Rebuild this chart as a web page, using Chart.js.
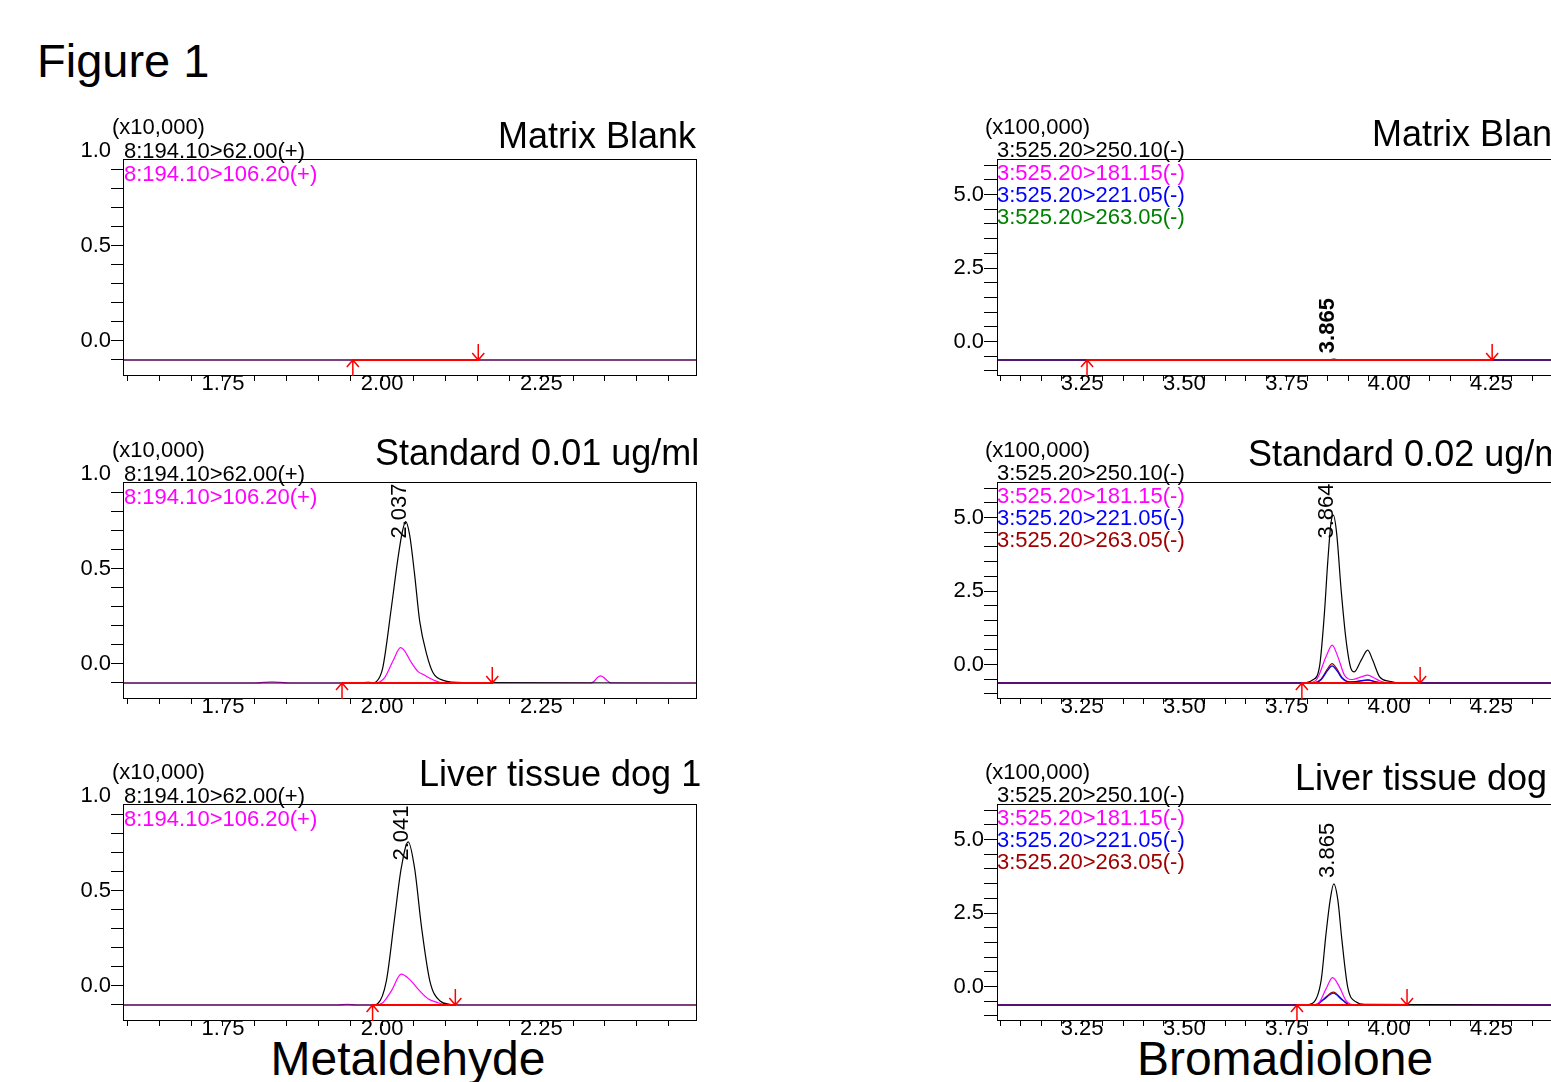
<!DOCTYPE html>
<html lang="en">
<head>
<meta charset="UTF-8">
<title>Figure 1</title>
<script src="https://cdn.jsdelivr.net/npm/chart.js"></script>
<style>
    body { margin: 0; width: 1551px; height: 1082px; overflow: hidden; background: #fff; position: relative;
           font-family: "Liberation Sans", Arial, sans-serif; color: #000; }
    canvas { position: absolute; }
    .t { position: absolute; white-space: nowrap; line-height: 1; }
</style>
</head>
<body>
<div class="t" style="left:37px;top:37px;font-size:47px">Figure 1</div>
<div class="t" style="left:408px;top:1035px;font-size:48px;transform:translateX(-50%)">Metaldehyde</div>
<div class="t" style="left:1285px;top:1035px;font-size:48px;transform:translateX(-50%)">Bromadiolone</div>

<canvas id="m1" width="700" height="306" style="left:60px;top:109px"></canvas>
<canvas id="m2" width="700" height="306" style="left:60px;top:432px"></canvas>
<canvas id="m3" width="700" height="306" style="left:60px;top:754px"></canvas>
<canvas id="b1" width="635" height="306" style="left:930px;top:109px"></canvas>
<canvas id="b2" width="635" height="306" style="left:930px;top:432px"></canvas>
<canvas id="b3" width="635" height="306" style="left:930px;top:754px"></canvas>

<script>
// ---- labels ----
const metTitles = ['Matrix Blank', 'Standard 0.01 ug/ml', 'Liver tissue dog 1'];
const bromTitles = ['Matrix Blank', 'Standard 0.02 ug/ml', 'Liver tissue dog 1'];
const metChannels = ['8:194.10>62.00(+)', '8:194.10>106.20(+)'];
const bromChannels = ['3:525.20>250.10(-)', '3:525.20>181.15(-)', '3:525.20>221.05(-)', '3:525.20>263.05(-)'];
const metScaleNote = '(x10,000)';
const bromScaleNote = '(x100,000)';

// ---- axis ticks ----
const metXTicks = [1.75, 2.00, 2.25];
const bromXTicks = [3.25, 3.50, 3.75, 4.00, 4.25];
const metYTicks = [0.0, 0.5, 1.0];
const bromYTicks = [0.0, 2.5, 5.0];

// ---- integration marks and peak times ----
const metIntStart = [1.954, 1.937, 1.985];
const metIntEnd = [2.151, 2.173, 2.115];
const bromIntStart = [3.262, 3.787, 3.775];
const bromIntEnd = [4.252, 4.076, 4.044];
const metPeakRT = [null, 2.037, 2.041];
const bromPeakRT = [3.865, 3.864, 3.865];

// ---- Metaldehyde traces ----
const m1BlackT = [1.593, 2.493];
const m1BlackY = [-0.1, -0.1];
const m1MagT = [1.593, 2.493];
const m1MagY = [-0.1, -0.1];

const m2BlackT = [1.593, 1.985, 1.991, 2.001, 2.0145, 2.025, 2.032, 2.037, 2.043, 2.051, 2.059, 2.070, 2.080, 2.096, 2.127, 2.493];
const m2BlackY = [-0.1, -0.1, -0.093, -0.02, 0.296, 0.56, 0.70, 0.749, 0.683, 0.472, 0.226, 0.051, -0.046, -0.086, -0.098, -0.1];
const m2MagT = [1.593, 1.800, 1.827, 1.855, 1.965, 1.978, 1.990, 2.004, 2.017, 2.029, 2.0355, 2.046, 2.0565, 2.064, 2.075, 2.085, 2.096, 2.328, 2.343, 2.360, 2.493];
const m2MagY = [-0.1, -0.1, -0.094, -0.1, -0.1, -0.095, -0.1, -0.072, 0.016, 0.086, 0.068, 0.007, -0.04, -0.054, -0.075, -0.09, -0.1, -0.1, -0.063, -0.1, -0.1];

const m3BlackT = [1.593, 1.985, 1.993, 2.0066, 2.0197, 2.030, 2.041, 2.051, 2.062, 2.075, 2.091, 2.106, 2.120, 2.493];
const m3BlackY = [-0.1, -0.1, -0.093, 0.026, 0.36, 0.62, 0.759, 0.62, 0.307, 0.026, -0.079, -0.096, -0.1, -0.1];
const m3MagT = [1.593, 1.930, 1.945, 1.960, 1.990, 2.001, 2.0145, 2.030, 2.043, 2.059, 2.072, 2.088, 2.100, 2.493];
const m3MagY = [-0.1, -0.1, -0.096, -0.1, -0.1, -0.088, -0.026, 0.062, 0.035, -0.026, -0.067, -0.088, -0.1, -0.1];

// ---- Bromadiolone traces ----
const b1BlackT = [3.042, 3.850, 3.865, 3.880, 4.430];
const b1BlackY = [-0.63, -0.63, -0.60, -0.63, -0.63];
const b1MagT = [3.042, 4.430];
const b1MagY = [-0.63, -0.63];
const b1BlueT = [3.042, 4.430];
const b1BlueY = [-0.63, -0.63];
const b1GreenT = [3.042, 4.430];
const b1GreenY = [-0.63, -0.63];

const b2BlackT = [3.042, 3.790, 3.813, 3.830, 3.842, 3.850, 3.858, 3.864, 3.872, 3.883, 3.895, 3.907, 3.915, 3.932, 3.948, 3.960, 3.977, 4.001, 4.030, 4.430];
const b2BlackY = [-0.63, -0.63, -0.53, -0.08, 1.73, 3.44, 4.80, 5.08, 4.46, 2.53, 0.83, -0.14, -0.25, 0.15, 0.49, 0.15, -0.42, -0.57, -0.63, -0.63];
const b2MagT = [3.042, 3.800, 3.822, 3.846, 3.861, 3.875, 3.891, 3.911, 3.930, 3.948, 3.965, 3.980, 4.000, 4.430];
const b2MagY = [-0.63, -0.63, -0.53, 0.26, 0.66, 0.26, -0.36, -0.51, -0.43, -0.36, -0.47, -0.57, -0.63, -0.63];
const b2BlueT = [3.042, 3.815, 3.835, 3.850, 3.861, 3.872, 3.885, 3.905, 3.930, 3.948, 3.965, 3.985, 4.430];
const b2BlueY = [-0.63, -0.63, -0.50, -0.20, -0.05, -0.20, -0.47, -0.60, -0.56, -0.52, -0.58, -0.63, -0.63];
const b2RedT = [3.042, 3.815, 3.835, 3.850, 3.861, 3.872, 3.885, 3.905, 3.930, 3.948, 3.965, 3.985, 4.430];
const b2RedY = [-0.63, -0.63, -0.48, -0.14, 0.03, -0.14, -0.44, -0.59, -0.56, -0.53, -0.58, -0.63, -0.63];

const b3BlackT = [3.042, 3.790, 3.813, 3.834, 3.846, 3.856, 3.865, 3.875, 3.885, 3.899, 3.920, 3.940, 4.430];
const b3BlackY = [-0.63, -0.63, -0.57, 0.20, 1.79, 2.93, 3.49, 2.93, 1.56, -0.02, -0.53, -0.61, -0.63];
const b3MagT = [3.042, 3.810, 3.830, 3.846, 3.862, 3.879, 3.895, 3.915, 4.430];
const b3MagY = [-0.63, -0.63, -0.53, -0.08, 0.30, -0.02, -0.48, -0.62, -0.63];
const b3BlueT = [3.042, 3.820, 3.840, 3.864, 3.885, 3.905, 4.430];
const b3BlueY = [-0.63, -0.63, -0.45, -0.23, -0.45, -0.63, -0.63];
const b3RedT = [3.042, 3.820, 3.840, 3.864, 3.885, 3.905, 4.430];
const b3RedY = [-0.63, -0.63, -0.43, -0.19, -0.43, -0.63, -0.63];

// ---- styles ----
const FONT = '"Liberation Sans", Arial, sans-serif';
const MAGENTA = '#ff00ff', BLUE = '#0000ff', GREEN = '#008000', DARKRED = '#a00000';
const bromFourthColor = [GREEN, DARKRED, DARKRED];
const boxTops = [159, 482, 804];

function near(v, list) {
    return list.some(t => Math.abs(t - v) < 1e-6);
}

function stepTicks(min, max, step) {
    const out = [];
    for (let k = Math.ceil(min / step - 1e-9); k * step <= max + 1e-9; k++) {
        out.push({ value: +(k * step).toFixed(4) });
    }
    return out;
}

function trace(ts, ys, color) {
    return {
        data: ts.map((t, i) => ({ x: t, y: ys[i] })),
        borderColor: color, borderWidth: 1.2, pointRadius: 0,
        cubicInterpolationMode: 'monotone', fill: false
    };
}

// frame, integration arrows and peak retention time label
const chromaDecor = {
    id: 'chromaDecor',
    afterDatasetsDraw(chart, args, o) {
        const ctx = chart.ctx, xs = chart.scales.x, ys = chart.scales.y, a = chart.chartArea;
        ctx.save();
        const top = Math.round(ys.getPixelForValue(o.boxTop)) + 0.5;
        const left = Math.round(a.left) + 0.5, bottom = Math.round(a.bottom) + 0.5;
        ctx.strokeStyle = '#000';
        ctx.lineWidth = 1;
        ctx.strokeRect(left, top, Math.round(a.right - a.left), bottom - top);

        const yb = ys.getPixelForValue(o.base);
        const x0 = xs.getPixelForValue(o.start), x1 = xs.getPixelForValue(o.end);
        ctx.strokeStyle = '#ff0000';
        ctx.lineWidth = 1.5;
        ctx.beginPath();
        ctx.moveTo(x0, yb + 16); ctx.lineTo(x0, yb);
        ctx.moveTo(x0 - 6, yb + 7); ctx.lineTo(x0, yb); ctx.lineTo(x0 + 6, yb + 7);
        ctx.moveTo(x1, yb - 16); ctx.lineTo(x1, yb);
        ctx.moveTo(x1 - 6, yb - 7); ctx.lineTo(x1, yb); ctx.lineTo(x1 + 6, yb - 7);
        ctx.stroke();

        if (o.peak != null) {
            const pts = chart.data.datasets[1].data.filter(p => Math.abs(p.x - o.peak) < 0.016);
            let apex = pts[0];
            pts.forEach(p => { if (p.y > apex.y) apex = p; });
            const px = xs.getPixelForValue(apex.x), py = ys.getPixelForValue(apex.y);
            const txt = o.peak.toFixed(3);
            ctx.font = (o.bold ? 'bold ' : '') + '22px ' + FONT;
            const w = ctx.measureText(txt).width;
            const sy = Math.max(py - 6, top + 1 + w);
            ctx.translate(px, sy);
            ctx.rotate(-Math.PI / 2);
            ctx.fillStyle = '#000';
            ctx.textAlign = 'left';
            ctx.textBaseline = 'alphabetic';
            ctx.fillText(txt, 0, 0);
        }
        ctx.restore();
    }
};

function makePanel(id, p) {
    new Chart(document.getElementById(id), {
        type: 'line',
        data: { datasets: p.datasets },
        options: {
            responsive: false,
            animation: false,
            devicePixelRatio: 1,
            layout: { padding: { left: 0, right: p.padRight, top: p.padTop, bottom: 0 } },
            plugins: {
                legend: { display: false },
                tooltip: { enabled: false },
                chromaDecor: p.decor
            },
            scales: {
                x: {
                    type: 'linear', min: p.xMin, max: p.xMax,
                    afterFit: s => { s.height = 40; },
                    afterBuildTicks: s => { s.ticks = stepTicks(p.xMin, p.xMax, 0.05); },
                    grid: { drawOnChartArea: false, tickLength: 6, color: '#000', lineWidth: 1 },
                    border: { display: false },
                    ticks: {
                        autoSkip: false, maxRotation: 0, padding: -10, color: '#000',
                        font: { family: FONT, size: 22 },
                        callback: v => near(v, p.xLabels) ? v.toFixed(2) : ''
                    }
                },
                y: {
                    type: 'linear', min: p.yMin, max: p.yMax,
                    afterFit: s => { s.width = p.yWidth; },
                    afterBuildTicks: s => { s.ticks = stepTicks(p.yMin, p.yMax, p.yStep); },
                    grid: {
                        drawOnChartArea: false, tickLength: p.tickLen, lineWidth: 1,
                        tickColor: c => (c.tick && c.tick.value > p.decor.boxTop + 1e-6) ? 'rgba(0,0,0,0)' : '#000'
                    },
                    border: { display: false },
                    ticks: {
                        autoSkip: false, padding: 0, color: '#000',
                        font: { family: FONT, size: 22 },
                        callback: v => near(v, p.yLabels) ? v.toFixed(1) : ''
                    }
                }
            }
        },
        plugins: [chromaDecor]
    });
}

function intLine(s, e, base) {
    return { data: [{ x: s, y: base }, { x: e, y: base }], borderColor: '#ff0000', borderWidth: 2, pointRadius: 0 };
}

const metSets = [
    [m1BlackT, m1BlackY, m1MagT, m1MagY],
    [m2BlackT, m2BlackY, m2MagT, m2MagY],
    [m3BlackT, m3BlackY, m3MagT, m3MagY]
];
const bromSets = [
    [b1BlackT, b1BlackY, b1MagT, b1MagY, b1BlueT, b1BlueY, b1GreenT, b1GreenY],
    [b2BlackT, b2BlackY, b2MagT, b2MagY, b2BlueT, b2BlueY, b2RedT, b2RedY],
    [b3BlackT, b3BlackY, b3MagT, b3MagY, b3BlueT, b3BlueY, b3RedT, b3RedY]
];

['m1', 'm2', 'm3'].forEach((id, k) => {
    const s = metSets[k];
    makePanel(id, {
        datasets: [
            intLine(metIntStart[k], metIntEnd[k], -0.1),
            trace(s[0], s[1], '#000'),
            trace(s[2], s[3], MAGENTA)
        ],
        xMin: 1.593, xMax: 2.493, xLabels: metXTicks,
        yMin: -0.179, yMax: 1.0, yStep: 0.1, yLabels: metYTicks,
        yWidth: 63, tickLen: 12, padTop: 42, padRight: 64,
        decor: { boxTop: 0.958, base: -0.1, start: metIntStart[k], end: metIntEnd[k], peak: metPeakRT[k], bold: false }
    });
});

['b1', 'b2', 'b3'].forEach((id, k) => {
    const s = bromSets[k];
    makePanel(id, {
        datasets: [
            intLine(bromIntStart[k], bromIntEnd[k], -0.63),
            trace(s[0], s[1], '#000'),
            trace(s[2], s[3], MAGENTA),
            trace(s[4], s[5], BLUE),
            trace(s[6], s[7], bromFourthColor[k])
        ],
        xMin: 3.042, xMax: 4.43, xLabels: bromXTicks,
        yMin: -1.14, yMax: 6.21, yStep: 0.5, yLabels: bromYTicks,
        yWidth: 67, tickLen: 13, padTop: 50, padRight: 0,
        decor: { boxTop: 6.21, base: -0.63, start: bromIntStart[k], end: bromIntEnd[k], peak: bromPeakRT[k], bold: k === 0 }
    });
});

// panel texts
function addText(txt, left, baseline, size, color) {
    const d = document.createElement('div');
    d.className = 't';
    d.textContent = txt;
    d.style.left = left + 'px';
    d.style.top = (baseline - 0.8465 * size) + 'px';
    d.style.fontSize = size + 'px';
    d.style.color = color;
    document.body.appendChild(d);
}

const titleLeftX = [498, 375, 419], titleBaseL = [148.3, 465.7, 786.7];
const titleRightX = [1372, 1248, 1295], titleBaseR = [146.7, 466.7, 790.7];
const metColors = ['#000', MAGENTA];

boxTops.forEach((B, k) => {
    addText(metTitles[k], titleLeftX[k], titleBaseL[k], 36, '#000');
    addText(bromTitles[k], titleRightX[k], titleBaseR[k], 36, '#000');
    addText(metScaleNote, 112, B - 24, 22, '#000');
    addText(bromScaleNote, 985, B - 24, 22, '#000');
    metChannels.forEach((c, i) => addText(c, 124, B - 0.7 + i * 23.5, 22, metColors[i]));
    const bromColors = ['#000', MAGENTA, BLUE, bromFourthColor[k]];
    bromChannels.forEach((c, i) => addText(c, 997, B - 1 + i * 22.3, 22, bromColors[i]));
});
</script>
</body>
</html>
